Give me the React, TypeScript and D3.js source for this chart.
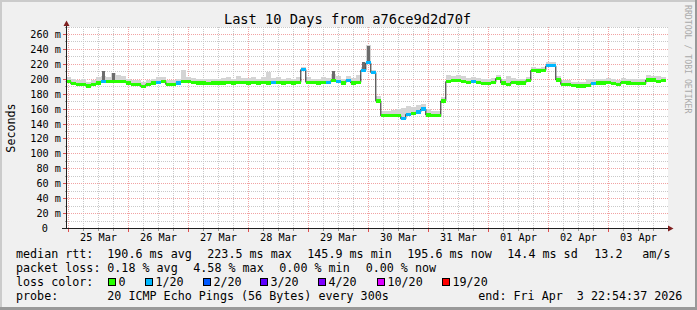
import React from "react";
import * as d3 from "d3";

// ---- data (2-hour bins, from Mar 24 22:54:37 to Apr 3 22:54:37 UTC) ----
const START = Date.UTC(2026, 2, 24, 22, 54, 37);
const END = Date.UTC(2026, 3, 3, 22, 54, 37);
const BIN_HOURS = 2;

const median = [
  197, 194, 193, 193, 191, 193, 195, 197, 197, 197,
  197, 197, 195, 193, 193, 190, 193, 195, 196, 197,
  193, 193, 195, 197, 197, 196, 195, 195, 194, 195,
  195, 195, 196, 195, 196, 196, 195, 196, 195, 196,
  195, 196, 196, 195, 196, 195, 196, 213, 196, 196,
  195, 196, 196, 198, 197, 195, 198, 195, 196, 212,
  222, 209, 171, 151, 151, 151, 151, 147, 153, 154,
  156, 160, 152, 151, 151, 171, 197, 198, 198, 197,
  196, 197, 196, 194, 194, 196, 201, 195, 193, 196,
  195, 195, 198, 212, 211, 212, 218, 218, 199, 193,
  193, 192, 191, 191, 192, 194, 195, 195, 196, 194,
  193, 196, 195, 194, 194, 194, 199, 199, 197, 198,
];

const smokeHi = [
  203, 201, 199, 200, 197, 199, 203, 205, 203, 208,
  206, 204, 201, 199, 199, 196, 199, 201, 203, 203,
  199, 199, 201, 212, 203, 202, 201, 201, 200, 201,
  201, 202, 203, 201, 205, 202, 202, 203, 201, 203,
  210, 202, 203, 201, 202, 201, 203, 216, 203, 201,
  201, 203, 202, 207, 205, 201, 205, 202, 206, 216,
  246, 213, 178, 157, 158, 159, 160, 161, 164, 163,
  165, 167, 160, 157, 157, 176, 206, 205, 206, 204,
  202, 203, 202, 200, 200, 202, 206, 201, 204, 202,
  201, 201, 203, 216, 215, 216, 223, 223, 205, 199,
  199, 197, 197, 197, 201, 201, 201, 201, 202, 200,
  199, 202, 201, 200, 200, 200, 206, 205, 204, 203,
];

// loss per bin, in pings lost out of 20
const loss = [
  0, 0, 0, 0, 0, 0, 0, 1, 0, 0,
  0, 0, 0, 0, 0, 0, 0, 0, 1, 0,
  0, 0, 1, 0, 0, 0, 0, 0, 0, 0,
  0, 0, 0, 0, 0, 0, 0, 0, 0, 0,
  0, 1, 0, 0, 0, 0, 0, 1, 0, 0,
  0, 0, 1, 0, 1, 0, 1, 0, 0, 1,
  1, 1, 0, 0, 0, 0, 0, 1, 1, 0,
  1, 1, 0, 0, 0, 0, 0, 0, 0, 0,
  0, 1, 0, 0, 0, 0, 0, 0, 0, 0,
  0, 0, 0, 0, 0, 0, 1, 1, 0, 0,
  0, 0, 0, 0, 0, 1, 0, 0, 0, 0,
  0, 0, 0, 0, 0, 0, 0, 0, 0, 0,
];

// dark smoke spikes (bin index, top value)
const spikeBins = [7, 9, 53, 59, 60];
const spikeTops = [211, 208, 211, 223, 244];

const yTicks = [0, 20, 40, 60, 80, 100, 120, 140, 160, 180, 200, 220, 240, 260];

const lossLabels = ["0", "1/20", "2/20", "3/20", "4/20", "10/20", "19/20"];
const lossThresholds = [0, 1, 2, 3, 4, 10, 19];
const lossColors = ["#26ff00", "#00b8ff", "#0059ff", "#5e00ff", "#7e00ff", "#dd00ff", "#ff0000"];

const rttLabels = ["190.6 ms avg", "223.5 ms max", "145.9 ms min", "195.6 ms now", "14.4 ms sd", "13.2", "am/s"];
const lossStatLabels = ["0.18 % avg", "4.58 % max", "0.00 % min", "0.00 % now"];

// ---- layout ----
const W = 697;
const H = 310;
const FONT = "'DejaVu Sans Mono', monospace";
const PLOT_TOP = 27;
const AXIS_X = 66.5;
const AXIS_Y = 228.5;
const PLOT_RIGHT = 667.5;
const SW = 2.2; // half-height of loss band in ms

const rttX = [107.3, 207.3, 307.3, 407.3, 507.3, 594.3, 642.3];
const lossStatX = [107.3, 193.3, 279.3, 365.7];
const lossBoxX = [108.5, 145.5, 203.5, 260.5, 318.5, 377.5, 442.5];

const snap = (v: number) => Math.floor(v) + 0.5;

function lossColor(l: number) {
  let c = lossColors[0];
  lossThresholds.forEach((t, i) => {
    if (l >= t) c = lossColors[i];
  });
  return c;
}

export default function App() {
  const x = d3.scaleUtc().domain([START, END]).range([65.8, 665.8]);
  const y = d3.scaleLinear().domain([0, 260]).range([228.5, 34.5]);

  const binT = (i: number) => START + i * BIN_HOURS * 3600 * 1000;

  const minorH = d3.range(10, 271, 20);
  const majorH = yTicks.filter((v) => v > 0);

  const days = d3.utcDay.range(START, END);
  const sixH = d3.utcHour.every(6)!.range(START, END).filter((d) => d.getUTCHours() !== 0);
  const noons = d3.utcDay
    .range(START - 86400000, END)
    .map((d) => new Date(+d + 12 * 3600000))
    .filter((d) => +d > START && +d < END);
  const fmt = d3.utcFormat("%d %b");

  const linePts: [number, number][] = median.map((m, i) => [x(binT(i)), y(m)]);
  linePts.push([x(END), y(median[median.length - 1])]);
  const medLine = d3.line().curve(d3.curveStepAfter)(linePts) || "";

  const gridGray = "#c9c9c9";
  const gridRed = "#f1a3a3";

  return (
    <svg
      width={W}
      height={H}
      style={{ position: "absolute", left: 0, top: 0, fontFamily: FONT }}
    >
      {/* background & frame */}
      <rect x={0} y={0} width={W} height={H} fill="#f0f0f0" />
      <rect x={0} y={0} width={W} height={2} fill="#cbcbcb" />
      <rect x={0} y={0} width={2} height={H} fill="#cbcbcb" />
      <rect x={0} y={H - 3} width={W} height={3} fill="#999999" />
      <rect x={W - 2} y={0} width={2} height={H} fill="#999999" />

      {/* canvas */}
      <rect x={67} y={PLOT_TOP} width={601} height={AXIS_Y - PLOT_TOP} fill="#ffffff" />

      {/* minor grid */}
      <g shapeRendering="crispEdges" stroke={gridGray} strokeDasharray="1,1">
        {minorH.map((v) => (
          <line key={"mh" + v} x1={AXIS_X} x2={PLOT_RIGHT} y1={snap(y(v))} y2={snap(y(v))} />
        ))}
        {sixH.map((d) => (
          <line key={"mv" + +d} x1={snap(x(d))} x2={snap(x(d))} y1={PLOT_TOP} y2={AXIS_Y} />
        ))}
      </g>
      {/* major grid */}
      <g shapeRendering="crispEdges" stroke={gridRed} strokeDasharray="1,1">
        {majorH.map((v) => (
          <line key={"Mh" + v} x1={AXIS_X} x2={PLOT_RIGHT} y1={snap(y(v))} y2={snap(y(v))} />
        ))}
        {days.map((d) => (
          <line key={"Mv" + +d} x1={snap(x(d))} x2={snap(x(d))} y1={PLOT_TOP} y2={AXIS_Y} />
        ))}
      </g>
      {/* ticks */}
      <g shapeRendering="crispEdges">
        {majorH.map((v) => (
          <line key={"yt" + v} x1={63} x2={AXIS_X} y1={snap(y(v))} y2={snap(y(v))} stroke="#de5050" />
        ))}
        {minorH.map((v) => (
          <line key={"ytm" + v} x1={64.5} x2={AXIS_X} y1={snap(y(v))} y2={snap(y(v))} stroke="#999" />
        ))}
        {days.map((d) => (
          <line key={"xt" + +d} x1={snap(x(d))} x2={snap(x(d))} y1={AXIS_Y} y2={AXIS_Y + 3} stroke="#de5050" />
        ))}
        {sixH.map((d) => (
          <line key={"xtm" + +d} x1={snap(x(d))} x2={snap(x(d))} y1={AXIS_Y} y2={AXIS_Y + 2} stroke="#999" />
        ))}
      </g>

      {/* smoke */}
      <g shapeRendering="crispEdges">
        {median.map((m, i) => (
          <rect
            key={"s" + i}
            x={x(binT(i))}
            width={x(binT(i + 1)) - x(binT(i))}
            y={y(smokeHi[i])}
            height={Math.max(0, y(m) - y(smokeHi[i]))}
            fill="#d4d4d4"
          />
        ))}
        {spikeBins.map((b, k) => (
          <rect
            key={"sp" + k}
            x={x(binT(b)) + 1}
            width={x(binT(b + 1)) - x(binT(b)) - 2}
            y={y(spikeTops[k])}
            height={Math.max(0, y(median[b]) - y(spikeTops[k]))}
            fill="#6c6c6c"
          />
        ))}
      </g>

      {/* median line */}
      <path d={medLine} fill="none" stroke="#202020" strokeWidth={1} />

      {/* loss-coloured median band */}
      <g shapeRendering="crispEdges">
        {median.map((m, i) => (
          <rect
            key={"m" + i}
            x={x(binT(i))}
            width={x(binT(i + 1)) - x(binT(i))}
            y={y(m + SW)}
            height={y(m - SW) - y(m + SW)}
            fill={lossColor(loss[i])}
          />
        ))}
      </g>

      {/* axes */}
      <g shapeRendering="crispEdges">
        <line x1={AXIS_X} x2={AXIS_X} y1={AXIS_Y} y2={23} stroke="#1f1f1f" />
        <line x1={62} x2={668} y1={AXIS_Y} y2={AXIS_Y} stroke="#1f1f1f" />
      </g>
      <path d={`M${AXIS_X},20.5 L${AXIS_X - 3},26 L${AXIS_X + 3},26 Z`} fill="#7f1f1f" />
      <path d={`M673.5,${AXIS_Y} L668,${AXIS_Y - 3} L668,${AXIS_Y + 3} Z`} fill="#7f1f1f" />

      {/* y tick labels */}
      <g fontSize={10.2} fill="#000">
        {yTicks.map((v) => (
          <text key={"yl" + v} x={v === 0 ? 48 : 61} y={snap(y(v)) + 3.5} textAnchor="end">
            {v === 0 ? "0" : `${v} m`}
          </text>
        ))}
      </g>
      {/* x tick labels */}
      <g fontSize={10.2} fill="#000">
        {noons.map((d) => (
          <text key={"xl" + +d} x={x(d)} y={240.5} textAnchor="middle">
            {fmt(d)}
          </text>
        ))}
      </g>

      {/* title */}
      <text x={347.5} y={24} fontSize={13.7} textAnchor="middle" fill="#000">
        Last 10 Days from a76ce9d2d70f
      </text>
      {/* y axis label */}
      <text transform="translate(15,128) rotate(-90)" fontSize={11.7} textAnchor="middle" fill="#000">
        Seconds
      </text>
      {/* watermark */}
      <text transform="translate(685,5) rotate(90)" fontSize={8.2} fill="#aaaaaa">
        RRDTOOL / TOBI OETIKER
      </text>

      {/* legend */}
      <g fontSize={11.7} fill="#000">
        <text x={16} y={258}>median rtt:</text>
        {rttLabels.map((t, i) => (
          <text key={"r" + i} x={rttX[i]} y={258}>{t}</text>
        ))}
        <text x={16} y={272}>packet loss:</text>
        {lossStatLabels.map((t, i) => (
          <text key={"l" + i} x={lossStatX[i]} y={272}>{t}</text>
        ))}
        <text x={16} y={286}>loss color:</text>
        {lossLabels.map((t, i) => (
          <g key={"lc" + i}>
            <rect x={lossBoxX[i]} y={278.5} width={7} height={7} fill={lossColors[i]} stroke="#000" strokeWidth={1} shapeRendering="crispEdges" />
            <text x={lossBoxX[i] + 10} y={286}>{t}</text>
          </g>
        ))}
        <text x={16} y={300}>probe:</text>
        <text x={107.3} y={300}>20 ICMP Echo Pings (56 Bytes) every 300s</text>
        <text x={478.3} y={300} xmlSpace="preserve">{"end: Fri Apr  3 22:54:37 2026"}</text>
      </g>
    </svg>
  );
}
